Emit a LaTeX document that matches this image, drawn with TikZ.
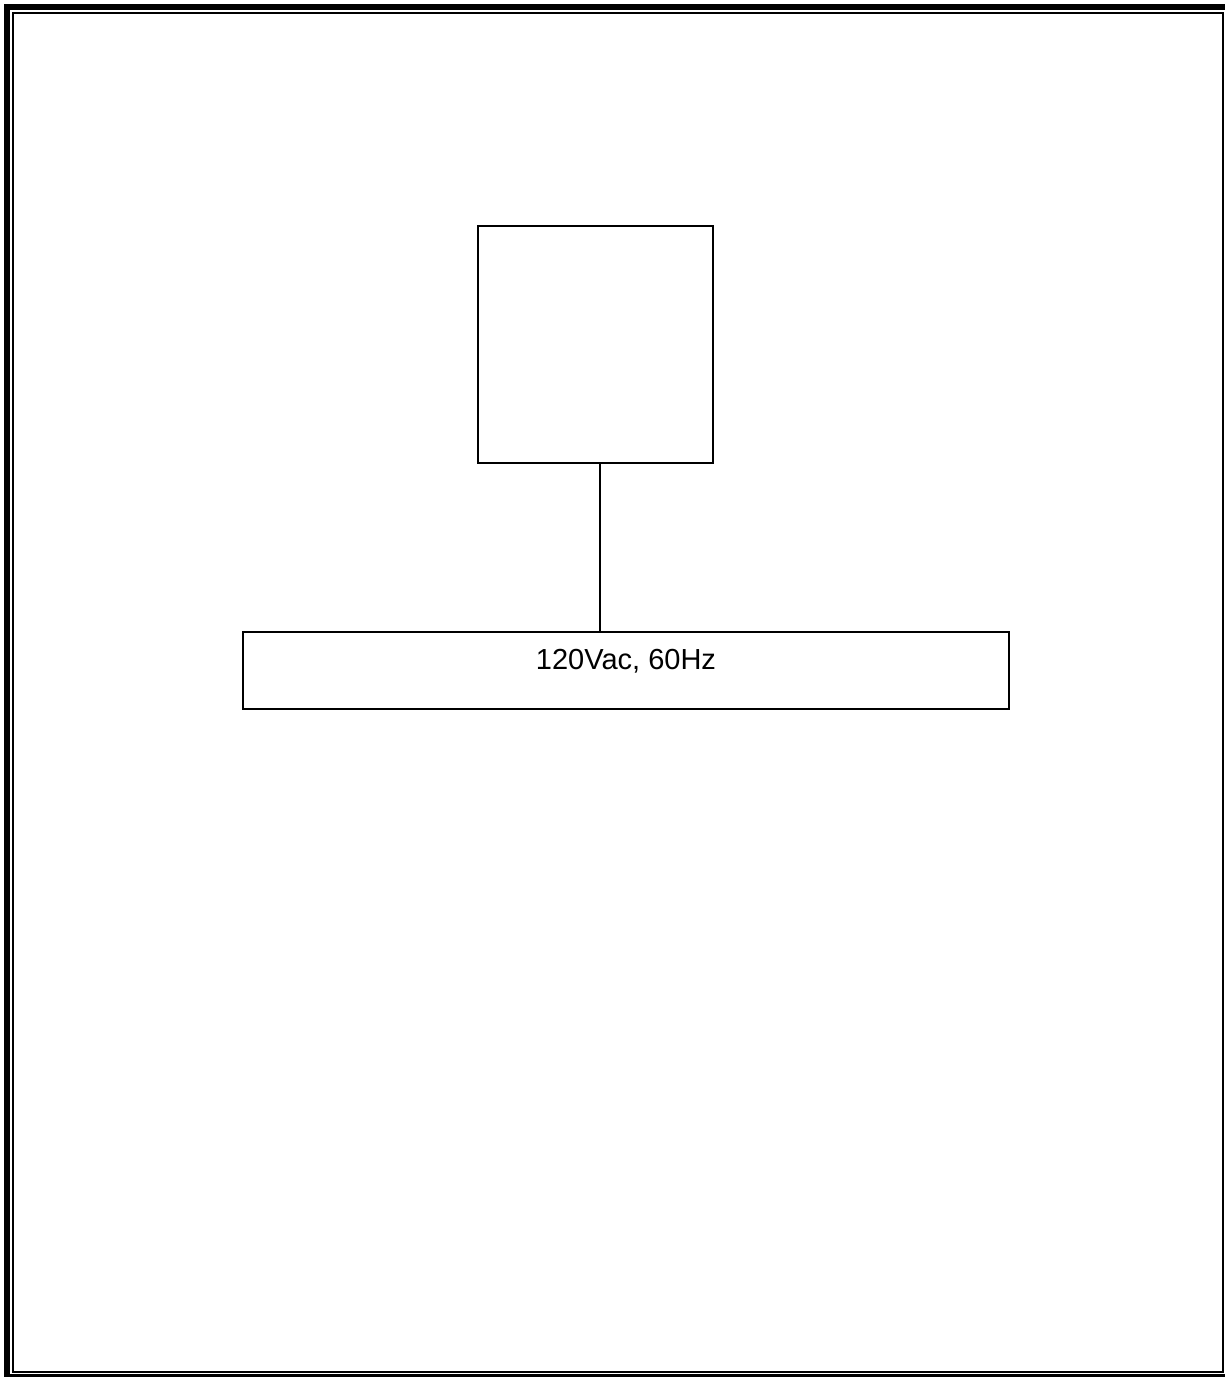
\documentclass[tikz,border=0pt]{standalone}
\usepackage{fontspec}
\setmainfont{Liberation Sans}
\usetikzlibrary{calc}
\begin{document}
\begin{tikzpicture}[x=1pt,y=-1pt,
  boxstyle/.style={draw=black,line width=2pt,inner sep=0pt,rectangle},
  wire/.style={draw=black,line width=2pt},
  label/.style={font=\fontsize{29}{34}\selectfont,inner sep=0pt}]
\useasboundingbox (0,0) rectangle (1225,1377);
\clip (0,0) rectangle (1225,1377);
\fill[white] (0,0) rectangle (1225,1377);
% frame
\draw[line width=6pt] (7,7) rectangle (1229,1377);
\draw[line width=2pt] (13,13) rectangle (1223,1372);
% boxes
\node[boxstyle,minimum width=235pt,minimum height=237pt] (load) at (595.5,344.5) {};
\node[boxstyle,minimum width=766pt,minimum height=77pt] (supply) at (626,670.5) {};
\node[label,anchor=base] (supplytext) at (626,669) {120Vac, 60Hz};
% connector
\draw[wire] ([xshift=4.5pt]load.south) -- ([xshift=4.5pt]load.south |- supply.north);
\end{tikzpicture}
\end{document}
